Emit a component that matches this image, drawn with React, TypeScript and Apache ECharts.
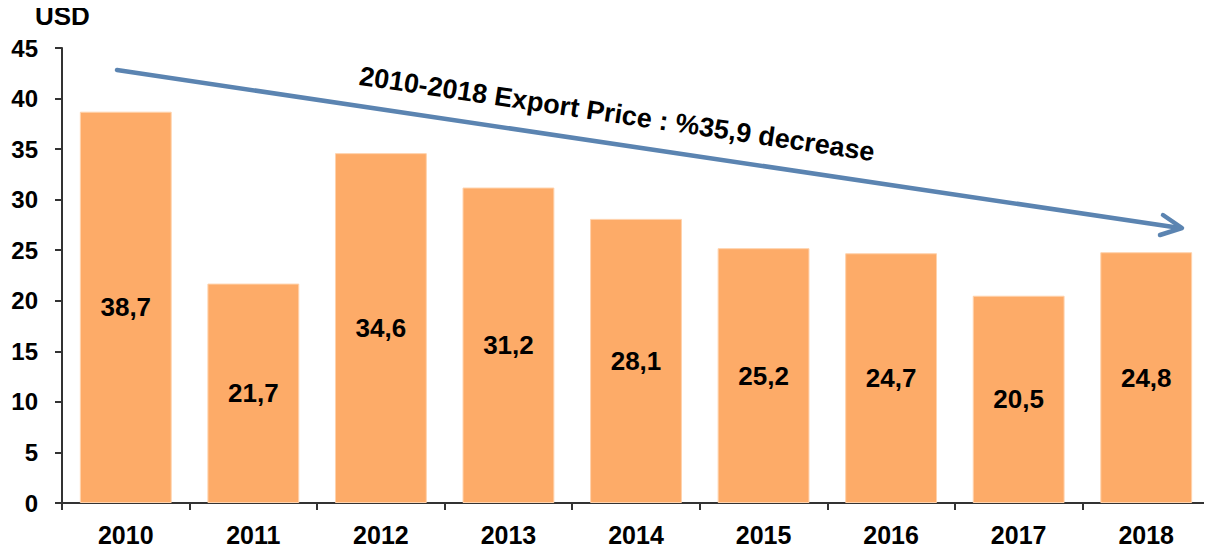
import React, { useEffect, useRef } from "react";
import * as echarts from "echarts";

const years = ["2010", "2011", "2012", "2013", "2014", "2015", "2016", "2017", "2018"];
const prices = [38.7, 21.7, 34.6, 31.2, 28.1, 25.2, 24.7, 20.5, 24.8];
const yTicks = { min: 0, max: 45, interval: 5 };
const unitLabel = "USD";
const trendText = "2010-2018 Export Price : %35,9 decrease";

const FONT = "'Liberation Sans', Arial, sans-serif";

export default function App() {
  const ref = useRef<HTMLDivElement>(null);
  useEffect(() => {
    if (!ref.current) return;
    const chart = echarts.init(ref.current, undefined, { renderer: "svg" });
    const arrowColor = "#5B84B1";
    chart.setOption({
      animation: false,
      backgroundColor: "#fff",
      grid: { left: 62, right: 2, top: 48, bottom: 50, containLabel: false },
      xAxis: {
        type: "category",
        data: years,
        axisLine: { lineStyle: { color: "#333", width: 2 } },
        axisTick: { show: true, length: 7, lineStyle: { color: "#333", width: 2 } },
        axisLabel: { fontFamily: FONT, fontWeight: "bold", fontSize: 25, color: "#000", margin: 19 },
      },
      yAxis: {
        type: "value",
        min: yTicks.min,
        max: yTicks.max,
        interval: yTicks.interval,
        splitLine: { show: false },
        axisLine: { show: true, lineStyle: { color: "#333", width: 2 } },
        axisTick: { show: true, length: 7, lineStyle: { color: "#333", width: 2 } },
        axisLabel: { fontFamily: FONT, fontWeight: "bold", fontSize: 24, color: "#000", margin: 24 },
      },
      series: [
        {
          type: "bar",
          data: prices,
          barCategoryGap: "28%",
          itemStyle: { color: "#FDAB68", borderColor: "#FFD2AC", borderWidth: 1 },
          label: {
            show: true,
            position: "inside",
            fontFamily: FONT,
            fontWeight: "bold",
            fontSize: 26,
            color: "#000",
            formatter: (p: any) => String(p.value).replace(".", ","),
          },
        },
      ],
      graphic: [
        {
          type: "text",
          left: 35,
          top: 3,
          style: { text: unitLabel, fontFamily: FONT, fontWeight: "bold", fontSize: 26, fill: "#000" },
        },
        {
          type: "line",
          shape: { x1: 117, y1: 70, x2: 1180, y2: 228 },
          style: { stroke: arrowColor, lineWidth: 4.5, lineCap: "round" },
        },
        {
          type: "polyline",
          shape: { points: [[1163, 215], [1182, 228], [1160, 235]] },
          style: { stroke: arrowColor, lineWidth: 4.5, lineCap: "round", lineJoin: "round", fill: "none" },
        },
        {
          type: "text",
          x: 617,
          y: 114,
          rotation: -Math.atan2(158, 1065),
          style: {
            text: trendText,
            fontFamily: FONT,
            fontWeight: "bold",
            fontSize: 27,
            fill: "#000",
            align: "center",
            verticalAlign: "middle",
          },
        },
      ],
    });
    return () => chart.dispose();
  }, []);
  return <div ref={ref} style={{ width: 1212, height: 553, margin: -8 }} />;
}
